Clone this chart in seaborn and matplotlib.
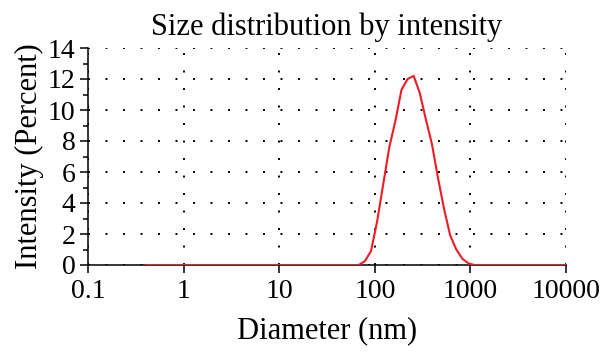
import numpy as np
import pandas as pd
import matplotlib
matplotlib.use("Agg")
import matplotlib.pyplot as plt
import seaborn as sns

# --- data ---
diameter_nm = [0.4, 68.06, 78.82, 91.28, 105.7, 122.4, 141.8, 164.2, 190.1, 220.2,
               255.0, 295.3, 342.0, 396.1, 458.7, 531.2, 615.1, 712.4, 825.0,
               955.4, 1106.0, 10000.0]
intensity_pct = [0.0, 0.0, 0.25, 0.9, 2.8, 5.2, 7.6, 9.3, 11.3, 12.0,
                 12.2, 11.1, 9.4, 7.8, 5.6, 3.6, 1.9, 1.0, 0.4,
                 0.1, 0.0, 0.0]

x_ticks = [0.1, 1, 10, 100, 1000, 10000]
x_tick_labels = ["0.1", "1", "10", "100", "1000", "10000"]
y_ticks = [0, 2, 4, 6, 8, 10, 12, 14]

df = pd.DataFrame({"diameter": diameter_nm, "intensity": intensity_pct})

sns.set_theme(style="white")
plt.rcParams['font.family'] = ['Liberation Serif', 'DejaVu Serif']

fig = plt.figure(figsize=(6, 3.57), dpi=100)
ax = fig.add_axes([88 / 600, 92 / 357, 478 / 600, 217 / 357])

sns.lineplot(data=df, x="diameter", y="intensity", ax=ax, color="#ee1c25",
             linewidth=1.5, zorder=3)

ax.set_xscale("log")
ax.set_xlim(0.1, 10000)
ax.set_ylim(0, 14)
ax.set_xticks(x_ticks)
ax.set_xticklabels(x_tick_labels)
ax.xaxis.set_minor_locator(matplotlib.ticker.NullLocator())
ax.set_yticks(y_ticks)
ax.yaxis.set_minor_locator(matplotlib.ticker.MultipleLocator(1))

# dotted grid
ax.grid(True, which="major", color="black", linestyle=(0, (1, 8)), linewidth=1.4)

for side in ["top", "right"]:
    ax.spines[side].set_visible(False)
for side in ["left", "bottom"]:
    ax.spines[side].set_color("black")
    ax.spines[side].set_linewidth(1.1)

ax.tick_params(axis="both", which="major", direction="out", length=6, width=1.1,
               color="black", labelsize=20, labelcolor="black", pad=3)
ax.tick_params(axis="y", which="minor", direction="out", length=3.5, width=1.1,
               color="black", left=True)
ax.tick_params(axis="x", which="major", bottom=True, pad=4)
ax.tick_params(axis="y", which="major", left=True)

ax.set_xlabel("Diameter (nm)", fontsize=22, color="black", labelpad=9)
ax.set_ylabel("Intensity (Percent)", fontsize=22, color="black", labelpad=3)
ax.set_title("Size distribution by intensity", fontsize=22, color="black", pad=9)

fig.savefig("out.png", dpi=100)
